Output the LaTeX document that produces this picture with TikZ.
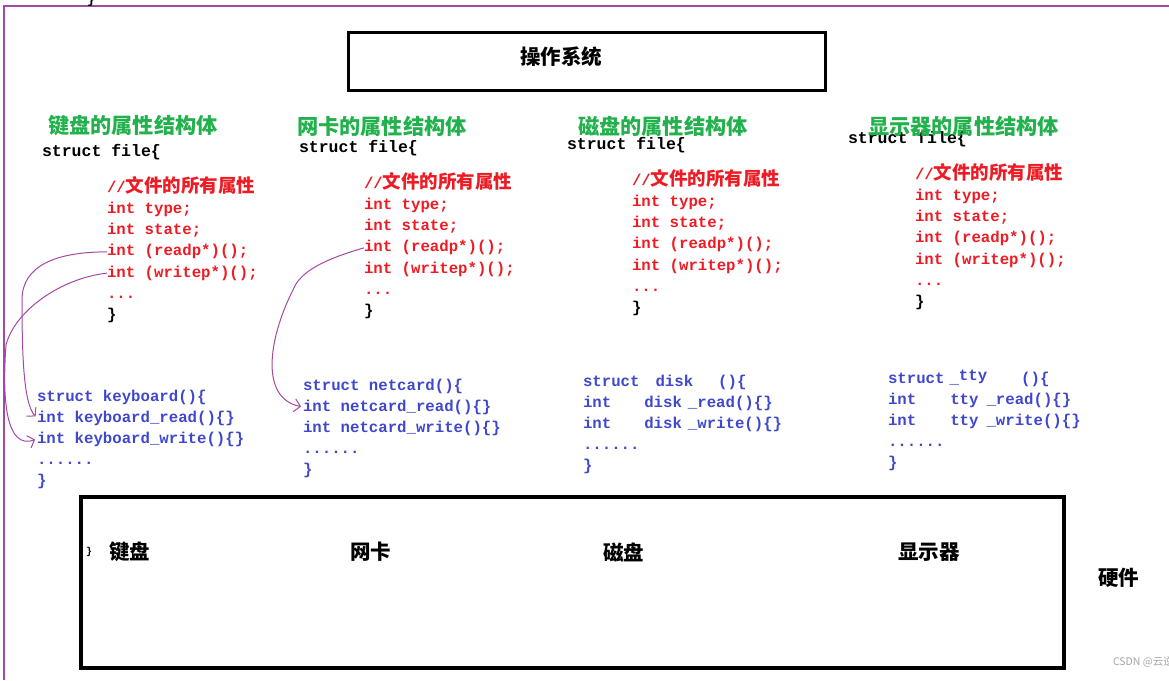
\documentclass[tikz,border=0pt]{standalone}
\usepackage{fontspec}
\newfontfamily\mono{Liberation Mono}
\newfontfamily\cjk{Noto Sans CJK SC}
\usetikzlibrary{arrows.meta}
\definecolor{pgreen}{HTML}{22B14C}
\definecolor{pred}{HTML}{ED1C24}
\definecolor{pblue}{HTML}{3F48CC}
\definecolor{ppurple}{HTML}{A349A4}
\begin{document}
\begin{tikzpicture}[x=1pt,y=-1pt,
  every node/.style={inner sep=0pt, outer sep=0pt},
  heading/.style={anchor=west, text=pgreen, font=\cjk\bfseries\fontsize{21.2}{21.2}\selectfont},
  sfile/.style={anchor=base west, font=\mono\bfseries\fontsize{16.5}{16.5}\selectfont},
  redline/.style={anchor=base west, text=pred, font=\mono\bfseries\fontsize{15.7}{15.7}\selectfont},
  blackline/.style={anchor=base west, text=black, font=\mono\bfseries\fontsize{15.7}{15.7}\selectfont},
  blueline/.style={anchor=base west, text=pblue, font=\mono\bfseries\fontsize{15.7}{15.7}\selectfont},
  hwlabel/.style={anchor=west, font=\cjk\bfseries\fontsize{20.5}{20.5}\selectfont},
  box/.style={draw, line width=3pt},
  link/.style={draw=ppurple, line width=1pt, shorten >=2pt, -{Straight Barb[length=6pt,width=13pt]}}
]
\useasboundingbox (0,0) rectangle (1169,680);
% frame lines
\draw[ppurple, line width=1.6pt] (4,680) -- (4,6) -- (1169,6);
\node[font=\mono\bfseries\fontsize{14}{14}\selectfont, anchor=base] (topbrace) at (91,4) {\}};

% OS box
\node[box, minimum width=477pt, minimum height=58pt] (os) at (586.5,61) {};
\node[font=\cjk\bfseries\fontsize{20.5}{20.5}\selectfont] (ost) at (561,57) {操作系统};

% headings
\node[heading] (h1) at (48,126) {键盘的属性结构体};
\node[heading] (h2) at (297,126) {网卡的属性结构体};
\node[heading] (h3) at (578,126) {磁盘的属性结构体};

% struct file
\node[sfile] (s1) at (42,156) {struct file\{};
\node[sfile] (s2) at (299,152) {struct file\{};
\node[sfile] (s3) at (567,149) {struct file\{};
\node[sfile] (s4) at (848,143) {struct file\{};
\node[heading] (h4) at (868,126) {显示器的属性结构体};

% red blocks
\foreach \i/\x/\y in {1/107/192, 2/364/188, 3/632/185, 4/915/179} {
  \node[redline] (rc\i) at (\x,\y) {//{\cjk\fontsize{18.5}{18.5}\selectfont 文件的所有属性}};
  \node[redline] (rt\i) at (\x,\y+21.3) {int type;};
  \node[redline] (rs\i) at (\x,\y+42.6) {int state;};
  \node[redline] (rr\i) at (\x,\y+63.9) {int (readp*)();};
  \node[redline] (rw\i) at (\x,\y+85.2) {int (writep*)();};
  \node[redline] (rd\i) at (\x,\y+106.5) {...};
  \node[blackline] (re\i) at (\x,\y+127.8) {\}};
}

% blue blocks
\node[blueline] (bs1) at (37,401) {struct keyboard()\{};
\node[blueline] (br1) at (37,422) {int keyboard\_read()\{\}};
\node[blueline] (bw1) at (37,443) {int keyboard\_write()\{\}};
\node[blueline] (bd1) at (37,464) {......};
\node[blueline] (be1) at (37,485) {\}};

\node[blueline] (bs2) at (303,390) {struct netcard()\{};
\node[blueline] (br2) at (303,411) {int netcard\_read()\{\}};
\node[blueline] (bw2) at (303,432) {int netcard\_write()\{\}};
\node[blueline] (bd2) at (303,453) {......};
\node[blueline] (be2) at (303,474) {\}};

\node[blueline] (bs3) at (583,386) {struct\hspace{16pt}disk\hspace{25pt}()\{};
\node[blueline] (br3) at (583,407) {int\hspace{33pt}disk\hspace{6pt}\_read()\{\}};
\node[blueline] (bw3) at (583,428) {int\hspace{33pt}disk\hspace{6pt}\_write()\{\}};
\node[blueline] (bd3) at (583,449) {......};
\node[blueline] (be3) at (583,470) {\}};

\node[blueline] (bs4) at (888,383) {struct\hspace{5pt}\_\raisebox{3pt}{tty}\hspace{34pt}()\{};
\node[blueline] (br4) at (888,404) {int\hspace{34pt}tty\hspace{8pt}\_read()\{\}};
\node[blueline] (bw4) at (888,425) {int\hspace{34pt}tty\hspace{8pt}\_write()\{\}};
\node[blueline] (bd4) at (888,446) {......};
\node[blueline] (be4) at (888,467) {\}};

% connectors
\draw[link] (rr1.west) .. controls (55,252) and (22,266) .. (22,300) .. controls (22,360) and (24,404) .. (br1.west);
\draw[link] (rw1.west) .. controls (62,278) and (15,310) .. (6,345) .. controls (2,400) and (6,450) .. (bw1.west);
\draw[link] (rr2.west) .. controls (322,260) and (300,272) .. (293,290) .. controls (270,335) and (258,398) .. (br2.west);

% hardware box
\node[box, line width=4pt, minimum width=983pt, minimum height=171pt] (hw) at (572.5,582.5) {};
\node[font=\mono\bfseries\fontsize{10}{10}\selectfont] (hwb) at (89,552) {\}};
\node[hwlabel] (k) at (109,552) {键盘};
\node[hwlabel] (n) at (350,552) {网卡};
\node[hwlabel] (d) at (603,552) {磁盘};
\node[hwlabel] (m) at (898,552) {显示器};
\node[hwlabel] (hwl) at (1098,578) {硬件};

\node[anchor=west, text=gray!70, font=\cjk\fontsize{10.5}{10.5}\selectfont] (wm) at (1113,662) {CSDN @云逆};
\end{tikzpicture}
\end{document}
